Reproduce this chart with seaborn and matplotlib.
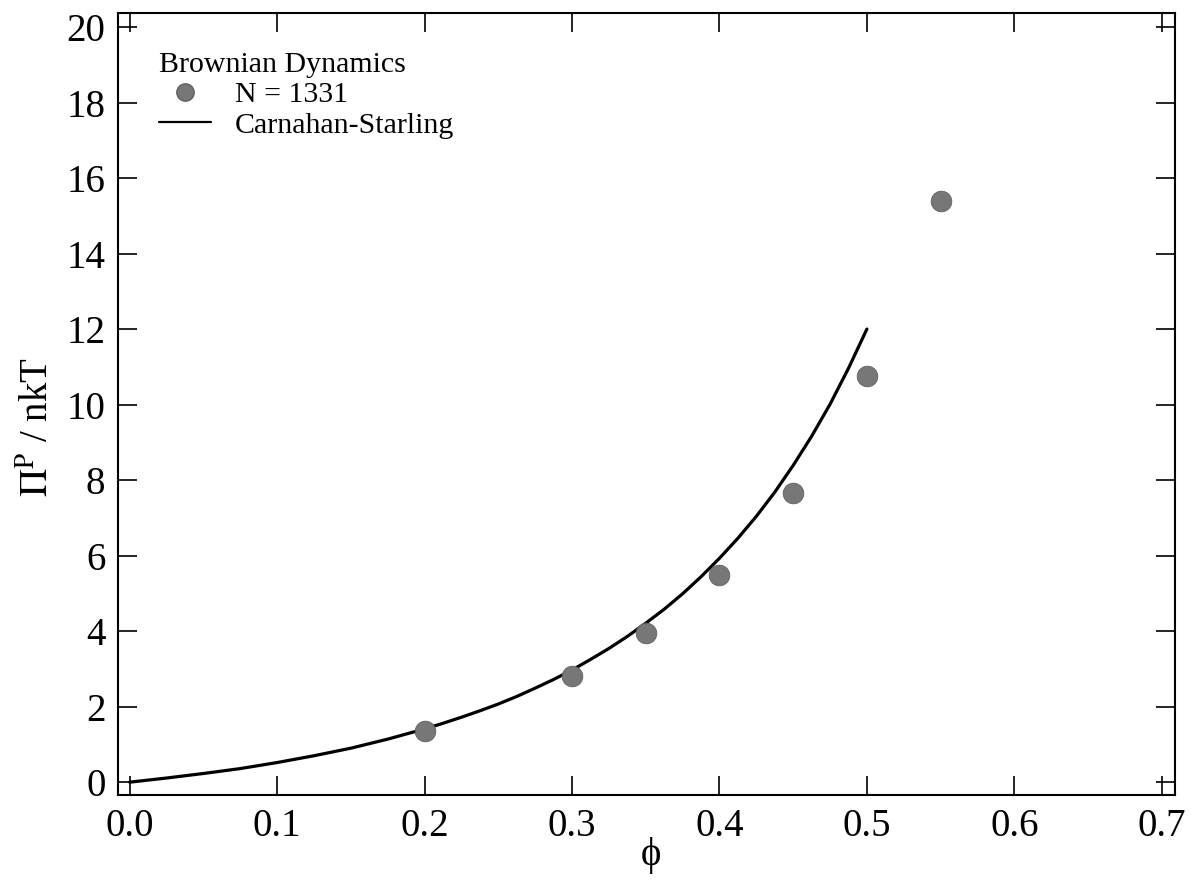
import matplotlib
matplotlib.use("Agg")
import matplotlib.pyplot as plt
import seaborn as sns
import pandas as pd
from matplotlib.lines import Line2D

# Brownian dynamics data
phi_bd = [0.20, 0.30, 0.35, 0.40, 0.45, 0.50, 0.55]
pi_bd = [1.35, 2.81, 3.95, 5.48, 7.66, 10.75, 15.38]

# Carnahan-Starling curve
phi_cs = [0.0, 0.025, 0.05, 0.075, 0.1, 0.125, 0.15, 0.175, 0.2, 0.2125,
          0.225, 0.2375, 0.25, 0.2625, 0.275, 0.2875, 0.3, 0.3125, 0.325,
          0.3375, 0.35, 0.3625, 0.375, 0.3875, 0.4, 0.4125, 0.425, 0.4375,
          0.45, 0.4625, 0.475, 0.4875, 0.5]
pi_cs = [0.0, 0.11, 0.23, 0.36, 0.52, 0.70, 0.90, 1.14, 1.41, 1.56,
         1.72, 1.89, 2.07, 2.27, 2.49, 2.72, 2.97, 3.25, 3.54,
         3.86, 4.21, 4.58, 4.99, 5.44, 5.93, 6.46, 7.04, 7.68,
         8.39, 9.16, 10.01, 10.96, 12.0]

x_ticks = [0.0, 0.1, 0.2, 0.3, 0.4, 0.5, 0.6, 0.7]
x_tick_labels = ["0.0", "0.1", "0.2", "0.3", "0.4", "0.5", "0.6", "0.7"]
y_ticks = [0, 2, 4, 6, 8, 10, 12, 14, 16, 18, 20]

sns.set_theme(style="ticks")
plt.rcParams['font.family'] = ['Liberation Serif', 'DejaVu Serif']
plt.rcParams['mathtext.fontset'] = 'stix'
plt.rcParams['text.color'] = 'black'
plt.rcParams['axes.labelcolor'] = 'black'

fig = plt.figure(figsize=(11.91, 8.81), dpi=100)
ax = fig.add_axes([0.099, 0.0976, 0.8876, 0.8876])

df_bd = pd.DataFrame({"phi": phi_bd, "pi": pi_bd})
df_cs = pd.DataFrame({"phi": phi_cs, "pi": pi_cs})

sns.lineplot(data=df_cs, x="phi", y="pi", ax=ax, color="black", lw=2.3,
             sort=False, estimator=None)
sns.scatterplot(data=df_bd, x="phi", y="pi", ax=ax, color="#777777", s=220,
                edgecolor="#606060", linewidth=0.6, zorder=3)

ax.set_xlim(-0.008, 0.709)
ax.set_ylim(-0.34, 20.37)
ax.set_xticks(x_ticks)
ax.set_xticklabels(x_tick_labels)
ax.set_yticks(y_ticks)

for s in ax.spines.values():
    s.set_linewidth(1.5)
    s.set_color("black")
ax.tick_params(direction="in", top=True, right=True, length=13.5, width=1.2,
               labelsize=28, pad=9, colors="black")

ax.set_xlabel("ϕ", fontsize=28, color="black")
ax.set_ylabel(r"$\Pi^{\mathrm{P}}$ / nkT", fontsize=28, color="black")
ax.xaxis.set_label_coords(0.504, -0.054)
ax.yaxis.set_label_coords(-0.057, 0.47)

handles = [Line2D([], [], ls="none", marker="o", ms=12.5, color="#777777",
                  markeredgecolor="#606060"),
           Line2D([], [], color="black", lw=1.6)]
leg = ax.legend(handles, ["N = 1331", "Carnahan-Starling"],
                title="Brownian Dynamics", loc="upper left",
                bbox_to_anchor=(0.019, 0.977), frameon=False, fontsize=21.5,
                title_fontsize=21.5, handlelength=1.75, handletextpad=0.8,
                labelspacing=0.12, borderpad=0.2, alignment="left")
for t in leg.get_texts():
    t.set_color("black")
leg.get_title().set_color("black")

fig.savefig("out.png", dpi=100)
